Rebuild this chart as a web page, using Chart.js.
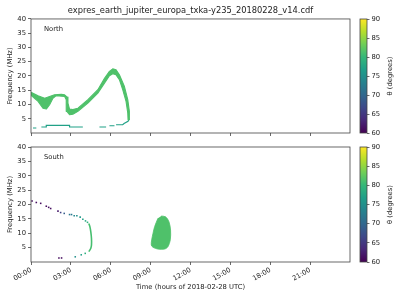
<!DOCTYPE html>
<html><head><meta charset="utf-8">
<script src="https://cdn.jsdelivr.net/npm/chart.js@4.4.0/dist/chart.umd.min.js"></script>
<style>
html,body{margin:0;padding:0;background:#fff;}
#wrap{position:relative;width:400px;height:300px;overflow:hidden;background:#fff;}
canvas{position:absolute;}
</style></head><body>
<div id="wrap">
<canvas id="north" style="left:0;top:0;width:400px;height:140px" width="400" height="140"></canvas>
<canvas id="south" style="left:0;top:140px;width:400px;height:160px" width="400" height="160"></canvas>
<canvas id="cbN" style="left:355px;top:0;width:45px;height:140px" width="45" height="140"></canvas>
<canvas id="cbS" style="left:355px;top:140px;width:45px;height:160px" width="45" height="160"></canvas>
</div>
<script>
// ---------- data ----------
const titleText = 'expres_earth_jupiter_europa_txka-y235_20180228_v14.cdf';
const xTitle = 'Time (hours of 2018-02-28 UTC)';
const yTitle = 'Frequency (MHz)';
const cbTitle = 'θ (degrees)';
const panelNames = ['North', 'South'];

const timeTicks = [0, 3, 6, 9, 12, 15, 18, 21];
const timeTickLabels = ['00:00', '03:00', '06:00', '09:00', '12:00', '15:00', '18:00', '21:00'];
const freqTicks = [5, 10, 15, 20, 25, 30, 35, 40];
const thetaTicks = [60, 65, 70, 75, 80, 85, 90];

// North: main emission band (outline: outer edge, then inner edge back)
const northBandTime = [0, 0.53, 1.03, 1.4, 1.77, 2.28, 2.53, 2.72, 2.78, 2.9, 3.15, 3.53, 4.28, 5.03, 5.53, 5.9, 6.15, 6.4, 6.65, 7.03, 7.28, 7.4, 7.4,
                       7.3, 7.28, 7.15, 6.9, 6.65, 6.4, 6.15, 5.9, 5.53, 5.03, 4.28, 3.53, 3.15, 2.9, 2.7, 2.65, 2.53, 1.9, 1.65, 1.4, 1.15, 0.9, 0.53, 0];
const northBandFreq = [14.3, 13.1, 12.2, 12.8, 13.4, 13.6, 13.4, 12.6, 10.5, 8.4, 8.2, 8.7, 11.7, 15.2, 19.2, 21.6, 22.5, 22.2, 20.4, 16.3, 11.7, 7.6, 4.7,
                       4.7, 7.0, 11.1, 15.2, 18.7, 20.4, 20.8, 20.1, 17.5, 14.0, 10.5, 7.6, 6.6, 6.4, 7.6, 11.7, 12.8, 13.1, 12.2, 9.9, 8.4, 8.7, 11.1, 13.2];
const northBandTheta = 81.5;

// North: thin low-frequency trace (null = gap)
const northLineTime = [0.15, 0.4, null, 0.78, 1.15, 1.15, 2.9, 2.9, 3.9, null, 5.15, 5.65, null, 5.9, 6.28, null, 6.4, 6.9, 7.0, 7.3, 7.4];
const northLineFreq = [1.75, 1.75, null, 2.1, 2.1, 2.7, 2.7, 2.1, 2.1, null, 2.1, 2.1, null, 2.55, 2.55, null, 2.9, 2.9, 3.3, 4.1, 5.0];
const northLineTheta = 77;

// South: sparse dotted trace
const southDotTime  = [0.08, 0.4, 0.73, 1.15, 1.33, 1.48, 2.03, 2.23, 2.5, 2.9, 3.05, 3.25, 3.45, 3.7, 3.9, 4.1, 4.25, 4.08, 3.78, 3.33, 2.1, 2.3];
const southDotFreq  = [21.2, 20.7, 20.4, 19.4, 19.0, 18.6, 17.7, 17.2, 16.9, 16.5, 16.5, 16.1, 16.1, 15.6, 14.9, 14.3, 13.8, 3.0, 2.5, 1.8, 1.4, 1.4];
const southDotTheta = [61, 61, 61, 61, 61, 61, 62, 66, 69, 72, 72, 74, 75, 76, 77, 78, 79, 79, 77, 75, 61, 61];

// South: continuous part of the trace
const southLineTime = [4.35, 4.43, 4.5, 4.55, 4.55, 4.5, 4.35];
const southLineFreq = [13.4, 12.3, 10.5, 8.2, 5.9, 4.8, 3.6];
const southLineTheta = 81;

// South: blob outline
const southBlobTime = [9.55, 9.3, 9.18, 9.08, 9.05, 9.18, 9.55, 10.05, 10.3, 10.48, 10.5, 10.38, 10.13, 9.8];
const southBlobFreq = [15.2, 12.3, 10.0, 7.7, 5.9, 5.1, 4.5, 4.5, 5.3, 7.7, 11.1, 14.0, 15.7, 16.0];
const southBlobTheta = 81.5;

// ---------- helpers ----------
const VIRIDIS = ['#440154','#482878','#3e4989','#31688e','#26828e','#1f9e89','#35b779','#6ece58','#b5de2b','#fde725'];
const TH_MIN = 60, TH_MAX = 90;
function hex(c){return [parseInt(c.slice(1,3),16),parseInt(c.slice(3,5),16),parseInt(c.slice(5,7),16)];}
function viridis(theta){
  let u = (theta - TH_MIN) / (TH_MAX - TH_MIN); u = Math.max(0, Math.min(1, u));
  const p = u * 9, i = Math.min(8, Math.floor(p)), f = p - i;
  const a = hex(VIRIDIS[i]), b = hex(VIRIDIS[i+1]);
  const r = a.map((v,k)=>Math.round(v + (b[k]-v)*f));
  return `rgb(${r[0]},${r[1]},${r[2]})`;
}
function zip(xs, ys){ return xs.map((x,i)=>({x: x, y: ys[i]})); }

const FONT = "'DejaVu Sans', sans-serif";
const TXT = '#222';
const AX = '#444';
Chart.defaults.font.family = FONT;
Chart.defaults.font.size = 6.8;
Chart.defaults.color = TXT;

const boxPlugin = {
  id: 'box',
  afterDraw(chart, args, opts) {
    const a = chart.chartArea, c = chart.ctx;
    c.save();
    c.strokeStyle = AX; c.lineWidth = 0.8;
    c.strokeRect(a.left, a.top, a.right - a.left, a.bottom - a.top);
    if (opts.label) {
      c.fillStyle = TXT; c.font = '6.8px ' + FONT; c.textBaseline = 'middle'; c.textAlign = 'left';
      c.fillText(opts.label, a.left + 13, a.top + 10.5);
    }
    if (opts.sideLabel) {
      c.translate(opts.sideX, (a.top + a.bottom) / 2);
      c.rotate(-Math.PI / 2);
      c.fillStyle = TXT; c.font = '6.8px ' + FONT; c.textBaseline = 'middle'; c.textAlign = 'center';
      c.fillText(opts.sideLabel, 0, 0);
    }
    c.restore();
  }
};

function panelScales(isBottom) {
  return {
    x: {
      type: 'linear', min: 0, max: 24,
      afterBuildTicks: s => { s.ticks = timeTicks.map(v => ({value: v})); },
      afterFit: s => { s.height = isBottom ? 38 : 7; },
      grid: { display: true, drawOnChartArea: false, drawTicks: true, tickLength: 3, color: AX, lineWidth: 0.8 },
      border: { display: false },
      ticks: { display: isBottom, autoSkip: false, minRotation: 30, maxRotation: 30, padding: 1,
               callback: (v, i) => timeTickLabels[i] },
      title: { display: isBottom, text: xTitle, padding: {top: 0, bottom: 9}, font: {size: 6.8} }
    },
    y: {
      type: 'linear', min: 0, max: 40,
      afterBuildTicks: s => { s.ticks = freqTicks.map(v => ({value: v})); },
      afterFit: s => { s.width = 31; },
      grid: { display: true, drawOnChartArea: false, drawTicks: true, tickLength: 3, color: AX, lineWidth: 0.8 },
      border: { display: false },
      ticks: { padding: 2, callback: v => String(v) },
      title: { display: true, text: yTitle, padding: {top: 6, bottom: 0}, font: {size: 6.8} }
    }
  };
}

// ---------- North ----------
new Chart(document.getElementById('north'), {
  type: 'scatter',
  data: { datasets: [
    { data: zip(northBandTime, northBandFreq), showLine: true, fill: 'shape', tension: 0,
      backgroundColor: viridis(northBandTheta), borderColor: viridis(northBandTheta), borderWidth: 1.1, borderJoinStyle: 'round', pointRadius: 0 },
    { data: zip(northLineTime, northLineFreq), showLine: true, spanGaps: false, fill: false,
      borderColor: viridis(northLineTheta), borderWidth: 1.2, pointRadius: 0 }
  ]},
  options: {
    responsive: false, animation: false, events: [],
    layout: { padding: { left: 0, right: 50, top: 0, bottom: 0 } },
    plugins: {
      legend: { display: false }, tooltip: { enabled: false },
      title: { display: true, text: titleText, fullSize: false, font: { size: 8.3, weight: 'normal' }, color: TXT, padding: { top: 6, bottom: 3 } },
      box: { label: panelNames[0] }
    },
    scales: panelScales(false)
  },
  plugins: [boxPlugin]
});

// ---------- South ----------
new Chart(document.getElementById('south'), {
  type: 'scatter',
  data: { datasets: [
    { data: zip(southBlobTime, southBlobFreq), showLine: true, fill: 'shape', tension: 0.3,
      backgroundColor: viridis(southBlobTheta), borderColor: viridis(southBlobTheta), borderWidth: 0.8, pointRadius: 0 },
    { data: zip(southLineTime, southLineFreq), showLine: true, fill: false, tension: 0.3,
      borderColor: viridis(southLineTheta), borderWidth: 1.6, pointRadius: 0 },
    { data: zip(southDotTime, southDotFreq), showLine: false, pointStyle: 'rect', pointRadius: 1.1, pointBorderWidth: 0,
      pointBackgroundColor: southDotTheta.map(viridis) }
  ]},
  options: {
    responsive: false, animation: false, events: [],
    layout: { padding: { left: 0, right: 50, top: 7, bottom: 0 } },
    plugins: { legend: { display: false }, tooltip: { enabled: false }, box: { label: panelNames[1] } },
    scales: panelScales(true)
  },
  plugins: [boxPlugin]
});

// ---------- Colorbars ----------
function colorbar(id, padTop, padBottom) {
  new Chart(document.getElementById(id), {
    type: 'bar',
    data: { labels: [''], datasets: [{
      data: [[TH_MIN, TH_MAX]], borderWidth: 0, barPercentage: 1, categoryPercentage: 1,
      backgroundColor: ctx => {
        const a = ctx.chart.chartArea;
        if (!a) return VIRIDIS[5];
        const g = ctx.chart.ctx.createLinearGradient(0, a.bottom, 0, a.top);
        VIRIDIS.forEach((c, k) => g.addColorStop(k / 9, c));
        return g;
      }
    }]},
    options: {
      responsive: false, animation: false, events: [],
      layout: { padding: { left: 5, right: 0, top: padTop, bottom: padBottom } },
      plugins: { legend: { display: false }, tooltip: { enabled: false }, box: { sideLabel: cbTitle, sideX: 35 } },
      scales: {
        x: { display: false },
        y: { position: 'right', min: TH_MIN, max: TH_MAX,
             afterBuildTicks: s => { s.ticks = thetaTicks.map(v => ({value: v})); },
             afterFit: s => { s.width = 33; },
             grid: { display: true, drawOnChartArea: false, drawTicks: true, tickLength: 2.5, color: AX, lineWidth: 0.8 },
             border: { display: false },
             ticks: { padding: 2, callback: v => String(v) } }
      }
    },
    plugins: [boxPlugin]
  });
}
colorbar('cbN', 19, 7);
colorbar('cbS', 7, 38);
</script>
</body></html>
